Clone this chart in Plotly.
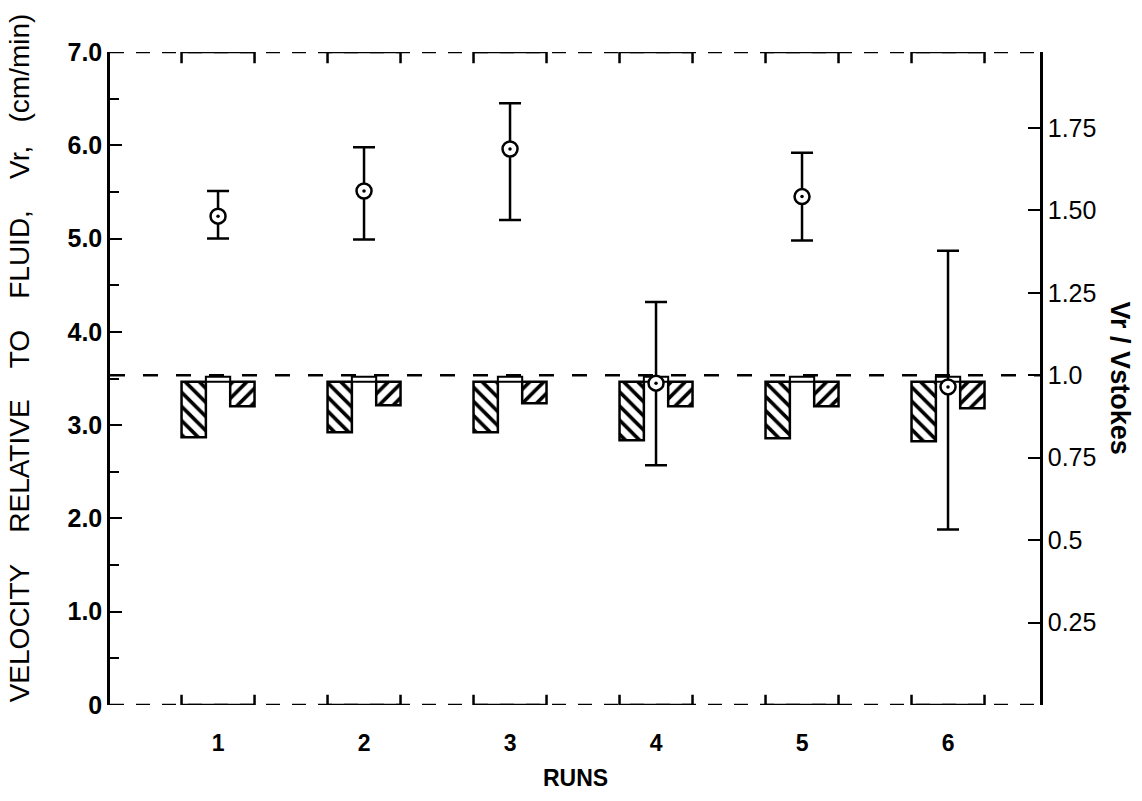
import plotly.graph_objects as go

# ---- data -------------------------------------------------------------
runs = [1, 2, 3, 4, 5, 6]
run_labels = ["1", "2", "3", "4", "5", "6"]

# relative velocity Vr (cm/min): mean with upper / lower error limits
vr_mean = [5.24, 5.51, 5.96, 3.45, 5.45, 3.41]
vr_high = [5.51, 5.98, 6.45, 4.32, 5.92, 4.87]
vr_low = [5.00, 4.99, 5.20, 2.57, 4.98, 1.88]

# Vr / Vstokes bars, all hanging from a common top level
bar_top = [0.98, 0.98, 0.98, 0.98, 0.98, 0.98]
left_bar_bottom = [0.812, 0.827, 0.827, 0.803, 0.809, 0.800]
mid_bar_top = [0.995, 0.995, 0.995, 0.995, 0.995, 0.995]
right_bar_bottom = [0.906, 0.909, 0.915, 0.906, 0.906, 0.900]

stokes_ratio_ref = 1.0

left_ticks = [0, 1, 2, 3, 4, 5, 6, 7]
left_tick_text = ["0", "1.0", "2.0", "3.0", "4.0", "5.0", "6.0", "7.0"]
right_ticks = [0.25, 0.5, 0.75, 1.0, 1.25, 1.5, 1.75]
right_tick_text = ["0.25", "0.5", "0.75", "1.0", "1.25", "1.50", "1.75"]

# ---- styling ------------------------------------------------------------
FONT = "Liberation Sans"
INK = "black"
LW = 2.5

fig = go.Figure()


def hanging_bar(bottom, pattern_shape):
    return go.Bar(
        x=runs,
        base=bar_top,
        y=[b - t for b, t in zip(bottom, bar_top)],
        yaxis="y",
        marker=dict(
            color="white",
            line=dict(color=INK, width=LW),
            pattern=dict(shape=pattern_shape, fgcolor=INK, bgcolor="white",
                         size=10, solidity=0.36, fillmode="replace"),
        ),
        showlegend=False,
        hoverinfo="skip",
    )


fig.add_trace(hanging_bar(left_bar_bottom, "\\"))
fig.add_trace(go.Bar(
    x=runs,
    base=bar_top,
    y=[m - t for m, t in zip(mid_bar_top, bar_top)],
    yaxis="y",
    marker=dict(color="white", line=dict(color=INK, width=2)),
    showlegend=False,
    hoverinfo="skip",
))
fig.add_trace(hanging_bar(right_bar_bottom, "/"))

# measured velocities with error bars (left axis)
fig.add_trace(go.Scatter(
    x=runs,
    y=vr_mean,
    yaxis="y2",
    mode="markers",
    marker=dict(symbol="circle", size=15, color="white",
                line=dict(color=INK, width=LW)),
    error_y=dict(type="data", symmetric=False,
                 array=[h - m for h, m in zip(vr_high, vr_mean)],
                 arrayminus=[m - l for m, l in zip(vr_mean, vr_low)],
                 color=INK, thickness=2.5, width=11),
    showlegend=False,
))
fig.add_trace(go.Scatter(
    x=runs, y=vr_mean, yaxis="y2", mode="markers",
    marker=dict(symbol="circle", size=3.5, color=INK),
    showlegend=False, hoverinfo="skip",
))

# ---- frame: dashed top/bottom with solid brackets over each run ---------
half = 0.25
shapes = []
dash = "14px,12px"
for yv in (0, 7):
    shapes.append(dict(type="line", xref="paper", yref="y2", x0=0, x1=1,
                       y0=yv, y1=yv, line=dict(color=INK, width=LW, dash=dash),
                       layer="below"))
shapes.append(dict(type="line", xref="paper", yref="y", x0=0, x1=1,
                   y0=stokes_ratio_ref, y1=stokes_ratio_ref,
                   line=dict(color=INK, width=LW, dash="15px,18px"), layer="below"))
for r in runs:
    x0, x1 = r - half, r + half
    shapes.append(dict(type="path", xref="x", yref="y2",
                       path=f"M{x0},{7 - 0.12} L{x0},7 L{x1},7 L{x1},{7 - 0.12}",
                       line=dict(color=INK, width=LW)))
    shapes.append(dict(type="path", xref="x", yref="y2",
                       path=f"M{x0},0.11 L{x0},0 L{x1},0 L{x1},0.11",
                       line=dict(color=INK, width=LW)))

annotations = [
    dict(text="VELOCITY\u00a0\u00a0\u00a0\u00a0RELATIVE\u00a0\u00a0\u00a0\u00a0TO"
              "\u00a0\u00a0\u00a0\u00a0FLUID,\u00a0\u00a0\u00a0\u00a0Vr,\u00a0\u00a0\u00a0(cm/min)",
         xref="paper", yref="paper", x=-0.0978, y=0.531, textangle=-90,
         showarrow=False, xanchor="center", yanchor="middle",
         font=dict(family=FONT, size=28, color=INK)),
    dict(text="Vr / Vstokes", xref="paper", yref="paper", x=1.087, y=0.50,
         textangle=90, showarrow=False, xanchor="center", yanchor="middle",
         font=dict(family=FONT, size=27, color=INK, weight="bold")),
    dict(text="RUNS", xref="paper", yref="paper", x=0.5, y=-0.112,
         showarrow=False, xanchor="center", yanchor="middle",
         font=dict(family=FONT, size=23, color=INK, weight="bold")),
]

fig.update_layout(
    width=1142, height=801,
    margin=dict(l=110, r=102, t=52, b=96),
    paper_bgcolor="white", plot_bgcolor="white",
    barmode="group", bargap=0.5, bargroupgap=0,
    shapes=shapes, annotations=annotations,
    font=dict(family=FONT, color=INK),
    xaxis=dict(range=[0.26, 6.63], tickvals=runs, ticktext=run_labels,
               showline=False, ticks="", showgrid=False, zeroline=False,
               tickfont=dict(size=23, weight="bold"), ticklabelstandoff=22),
    yaxis=dict(side="right", range=[0, 1.98], tickvals=right_ticks,
               ticktext=right_tick_text, ticks="inside", ticklen=12,
               tickwidth=2, tickcolor=INK, showline=True, linewidth=LW,
               linecolor=INK, showgrid=False, zeroline=False,
               tickfont=dict(size=25)),
    yaxis2=dict(overlaying="y", side="left", range=[0, 7], tickvals=left_ticks,
                ticktext=left_tick_text, ticks="inside", ticklen=12,
                tickwidth=2, tickcolor=INK, showline=True, linewidth=LW,
                linecolor=INK, showgrid=False, zeroline=False,
                tickfont=dict(size=25, weight="bold"),
                minor=dict(tickmode="linear", tick0=0, dtick=0.5,
                           ticks="inside", ticklen=9, tickwidth=2,
                           tickcolor=INK, showgrid=False)),
)

fig.write_html("out.html")
